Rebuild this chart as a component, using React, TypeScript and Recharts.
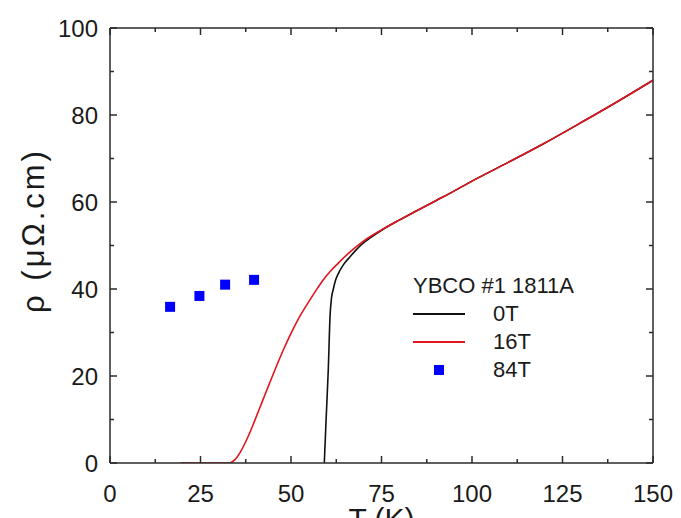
import React from "react";
import { ComposedChart, Line, Scatter, XAxis, YAxis, Legend } from "recharts";

const redT = [19.5, 33, 34, 35, 36, 38, 40, 42, 44, 46, 48, 50, 52.5, 55, 57, 59, 61, 63, 66, 70, 75, 80, 85, 90, 95, 100, 110, 120, 130, 140, 150];
const redRho = [0, 0, 0.4, 1.2, 2.5, 5.8, 9.8, 14.0, 18.2, 22.3, 26.2, 29.8, 33.8, 37.2, 39.8, 42.2, 44.2, 45.9, 48.3, 51, 53.6, 55.9, 58.1, 60.3, 62.5, 64.8, 69.1, 73.5, 78.2, 83.0, 88];

const blackT = [59.2, 59.7, 60.3, 60.8, 61.2, 61.7, 62.3, 63.1, 64.5, 66.3, 68, 70, 72, 75, 80, 85, 90, 95, 100, 110, 120, 130, 140, 150];
const blackRho = [0, 10, 21.5, 34, 38, 40, 42, 43.6, 45.6, 47.4, 49, 50.6, 51.8, 53.5, 55.9, 58.1, 60.3, 62.5, 64.8, 69.1, 73.5, 78.2, 83.0, 88];

const blueT = [16.6, 24.7, 31.8, 39.8];
const blueRho = [35.9, 38.4, 41.0, 42.1];

const xTicks = [0, 12.5, 25, 37.5, 50, 62.5, 75, 87.5, 100, 112.5, 125, 137.5, 150];
const yTicks = [0, 10, 20, 30, 40, 50, 60, 70, 80, 90, 100];

const legendTitle = "YBCO #1 1811A";
const seriesNames = ["0T", "16T", "84T"];

const redData = redT.map((T, i) => ({ T, rho: redRho[i] }));
const blackData = blackT.map((T, i) => ({ T, rho: blackRho[i] }));
const blueData = blueT.map((T, i) => ({ T, rho: blueRho[i] }));

const AX = "#2a2a2a";
const FONT = "'Liberation Sans', Arial, sans-serif";
const MAJOR = 7;
const MINOR = 4;
const BOTTOM_MARGIN = 22;
const LEFT_MARGIN = 12;

const isMajorX = (v: number) => Math.abs(v % 25) < 1e-6;
const isMajorY = (v: number) => Math.abs(v % 20) < 1e-6;

const BottomTick = (props: any) => {
  const { x, y, payload } = props;
  const v = payload.value;
  const major = isMajorX(v);
  const ay = y - BOTTOM_MARGIN;
  return (
    <g>
      <line x1={x} x2={x} y1={ay} y2={ay - (major ? MAJOR : MINOR)} stroke={AX} strokeWidth={1.5} />
      {major && (
        <text x={x} y={y} dy="0.71em" textAnchor="middle" fontSize={24} fill="#1a1a1a" fontFamily={FONT}>
          {v}
        </text>
      )}
    </g>
  );
};

const TopTick = (props: any) => {
  const { x, y, payload } = props;
  const major = isMajorX(payload.value);
  return <line x1={x} x2={x} y1={y} y2={y + (major ? MAJOR : MINOR)} stroke={AX} strokeWidth={1.5} />;
};

const LeftTick = (props: any) => {
  const { x, y, payload } = props;
  const v = payload.value;
  const major = isMajorY(v);
  const ax = x + LEFT_MARGIN;
  return (
    <g>
      <line x1={ax} x2={ax + (major ? MAJOR : MINOR)} y1={y} y2={y} stroke={AX} strokeWidth={1.5} />
      {major && (
        <text x={x} y={y} dy="0.355em" textAnchor="end" fontSize={24} fill="#1a1a1a" fontFamily={FONT}>
          {v}
        </text>
      )}
    </g>
  );
};

const RightTick = (props: any) => {
  const { x, y, payload } = props;
  const major = isMajorY(payload.value);
  return <line x1={x} x2={x - (major ? MAJOR : MINOR)} y1={y} y2={y} stroke={AX} strokeWidth={1.5} />;
};

const XLabel = (props: any) => {
  const vb = props.viewBox;
  return (
    <text x={vb.x + vb.width / 2} y={vb.y + 45} dy="0.71em" textAnchor="middle" fontSize={30} fill="#1a1a1a" fontFamily={FONT}>
      T (K)
    </text>
  );
};

const YLabel = (props: any) => {
  const vb = props.viewBox;
  const cx = vb.x + 44;
  const cy = vb.y + vb.height / 2 - 15;
  return (
    <text transform={`translate(${cx},${cy}) rotate(-90)`} textAnchor="middle" fontSize={31} letterSpacing={3} fill="#1a1a1a" fontFamily={FONT}>
      ρ (μΩ.cm)
    </text>
  );
};

const LegendContent = () => {
  const rowStyle: React.CSSProperties = { display: "flex", alignItems: "center", height: 28 };
  const sample = (i: number) => {
    if (i === 2) {
      return (
        <div style={{ width: 52, display: "flex", justifyContent: "center" }}>
          <div style={{ width: 10, height: 10, background: "#0000ff" }} />
        </div>
      );
    }
    return (
      <div style={{ width: 52, display: "flex", alignItems: "center" }}>
        <div style={{ width: 52, height: 2, background: i === 0 ? "#111" : "#e3141e" }} />
      </div>
    );
  };
  return (
    <div style={{ fontFamily: FONT, fontSize: 22, color: "#1a1a1a", lineHeight: "28px" }}>
      <div style={{ height: 28, whiteSpace: "nowrap" }}>{legendTitle}</div>
      {seriesNames.map((n, i) => (
        <div key={n} style={rowStyle}>
          {sample(i)}
          <span style={{ marginLeft: 28 }}>{n}</span>
        </div>
      ))}
    </div>
  );
};

export default function App() {
  return (
    <div style={{ position: "absolute", left: 0, top: 0, background: "#fff" }}>
      <ComposedChart width={681} height={518} margin={{ top: 27, right: 27, left: 0, bottom: 0 }}>
        <XAxis
          dataKey="T"
          type="number"
          domain={[0, 150]}
          ticks={xTicks}
          interval={0}
          height={55}
          tickSize={0}
          tickMargin={BOTTOM_MARGIN}
          tickLine={false}
          axisLine={{ stroke: AX, strokeWidth: 1.5 }}
          tick={<BottomTick />}
          label={<XLabel />}
          allowDataOverflow
        />
        <XAxis
          xAxisId="top"
          orientation="top"
          dataKey="T"
          type="number"
          domain={[0, 150]}
          ticks={xTicks}
          interval={0}
          height={1}
          tickSize={0}
          tickMargin={0}
          tickLine={false}
          axisLine={{ stroke: AX, strokeWidth: 1.5 }}
          tick={<TopTick />}
          allowDataOverflow
        />
        <YAxis
          type="number"
          domain={[0, 100]}
          ticks={yTicks}
          interval={0}
          width={110}
          tickSize={0}
          tickMargin={LEFT_MARGIN}
          tickLine={false}
          axisLine={{ stroke: AX, strokeWidth: 1.5 }}
          tick={<LeftTick />}
          label={<YLabel />}
          allowDataOverflow
        />
        <YAxis
          yAxisId="r"
          orientation="right"
          type="number"
          domain={[0, 100]}
          ticks={yTicks}
          interval={0}
          width={1}
          tickSize={0}
          tickMargin={0}
          tickLine={false}
          axisLine={{ stroke: AX, strokeWidth: 1.5 }}
          tick={<RightTick />}
          allowDataOverflow
        />
        <Line
          xAxisId="top"
          yAxisId="r"
          data={blackData}
          dataKey="rho"
          type="monotone"
          stroke="none"
          strokeOpacity={0}
          dot={false}
          activeDot={false}
          isAnimationActive={false}
          legendType="none"
        />
        <Line data={blackData} dataKey="rho" type="monotone" stroke="#111" strokeWidth={1.6} dot={false} isAnimationActive={false} name="0T" />
        <Line data={redData} dataKey="rho" type="monotone" stroke="#e3141e" strokeWidth={1.6} dot={false} isAnimationActive={false} name="16T" />
        <Scatter
          data={blueData}
          dataKey="rho"
          fill="#0000ff"
          isAnimationActive={false}
          name="84T"
          shape={(p: any) => <rect x={p.cx - 5} y={p.cy - 5} width={10} height={10} fill="#0000ff" />}
        />
        <Legend
          layout="vertical"
          align="center"
          verticalAlign="middle"
          content={<LegendContent />}
          wrapperStyle={{ left: 413, top: 272, width: 200 }}
        />
      </ComposedChart>
    </div>
  );
}
